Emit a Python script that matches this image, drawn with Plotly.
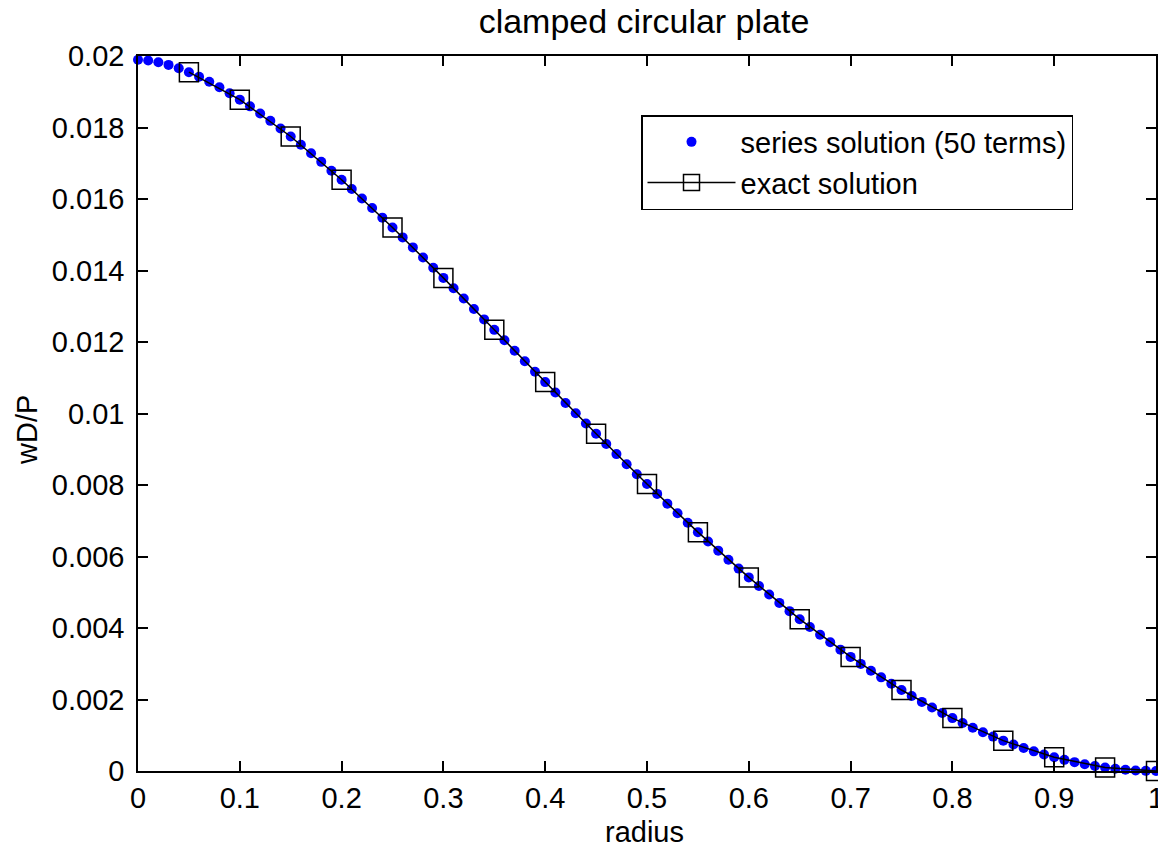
import plotly.graph_objects as go

# ---- data ----
series_r = [round(i * 0.01, 2) for i in range(101)]
series_w = [
    0.019894, 0.019874, 0.019824, 0.019751, 0.019658, 0.019547, 0.019420, 0.019278, 0.019124, 0.018957,
    0.018779, 0.018591, 0.018393, 0.018186, 0.017971, 0.017748, 0.017518, 0.017282, 0.017039, 0.016791,
    0.016537, 0.016279, 0.016016, 0.015748, 0.015478, 0.015204, 0.014926, 0.014646, 0.014364, 0.014079,
    0.013793, 0.013504, 0.013215, 0.012924, 0.012632, 0.012340, 0.012048, 0.011755, 0.011462, 0.011170,
    0.010878, 0.010587, 0.010296, 0.010007, 0.009719, 0.009432, 0.009147, 0.008864, 0.008582, 0.008303,
    0.008026, 0.007751, 0.007479, 0.007210, 0.006944, 0.006681, 0.006421, 0.006164, 0.005911, 0.005661,
    0.005415, 0.005173, 0.004935, 0.004702, 0.004472, 0.004247, 0.004027, 0.003811, 0.003600, 0.003394,
    0.003192, 0.002996, 0.002805, 0.002620, 0.002440, 0.002265, 0.002096, 0.001933, 0.001776, 0.001625,
    0.001480, 0.001341, 0.001208, 0.001082, 0.000962, 0.000849, 0.000742, 0.000642, 0.000549, 0.000463,
    0.000384, 0.000312, 0.000248, 0.000190, 0.000140, 0.000098, 0.000063, 0.000035, 0.000016, 0.000004,
    0.000000,
]

exact_r = [0.05, 0.10, 0.15, 0.20, 0.25, 0.30, 0.35, 0.40, 0.45, 0.50,
           0.55, 0.60, 0.65, 0.70, 0.75, 0.80, 0.85, 0.90, 0.95, 1.00]
exact_w = [0.019547, 0.018779, 0.017748, 0.016537, 0.015204, 0.013793, 0.012340, 0.010878, 0.009432, 0.008026,
           0.006681, 0.005415, 0.004247, 0.003192, 0.002265, 0.001480, 0.000849, 0.000384, 0.000098, 0.000000]

x_ticks = [0, 0.1, 0.2, 0.3, 0.4, 0.5, 0.6, 0.7, 0.8, 0.9, 1.0]
x_tick_labels = ["0", "0.1", "0.2", "0.3", "0.4", "0.5", "0.6", "0.7", "0.8", "0.9", "1"]
y_ticks = [0, 0.002, 0.004, 0.006, 0.008, 0.010, 0.012, 0.014, 0.016, 0.018, 0.020]
y_tick_labels = ["0", "0.002", "0.004", "0.006", "0.008", "0.01", "0.012", "0.014", "0.016", "0.018", "0.02"]

FONT = "Liberation Sans, Arial, sans-serif"
W, H = 1158, 847
ML, MR, MT, MB = 138, 2, 56, 76
FS = 29

fig = go.Figure()
fig.add_trace(go.Scatter(
    x=series_r, y=series_w, mode="markers",
    name="series solution (50 terms)",
    marker=dict(symbol="circle", size=10, color="#0000ff", line=dict(width=0)),
    cliponaxis=False,
))
fig.add_trace(go.Scatter(
    x=exact_r, y=exact_w, mode="lines+markers",
    name="exact solution",
    line=dict(color="black", width=1.5),
    marker=dict(symbol="square-open", size=19, color="black", line=dict(width=1.5, color="black")),
    cliponaxis=False,
))

axis_common = dict(
    showline=True, linecolor="black", linewidth=1.5, mirror="ticks",
    ticks="inside", ticklen=10, tickwidth=1.5, tickcolor="black",
    showgrid=False, zeroline=False, automargin=False,
    tickfont=dict(family=FONT, size=FS, color="black"),
    ticklabeloverflow="allow",
)

plot_h = H - MT - MB
plot_w = W - ML - MR

fig.update_layout(
    width=W, height=H,
    margin=dict(l=ML, r=MR, t=MT, b=MB, pad=0, autoexpand=False),
    paper_bgcolor="white", plot_bgcolor="white",
    font=dict(family=FONT, size=FS, color="black"),
    title=dict(text="clamped circular plate", x=(644 - ML) / plot_w, xref="paper", xanchor="center",
               y=1 - 21 / H, yref="container", yanchor="middle",
               font=dict(family=FONT, size=34, color="black")),
    xaxis=dict(range=[0, 1], tickvals=x_ticks, ticktext=x_tick_labels, **axis_common),
    yaxis=dict(range=[0, 0.02], tickvals=y_ticks, ticktext=y_tick_labels,
               ticklabelstandoff=6, **axis_common),
    showlegend=True,
    legend=dict(
        x=(641 - ML) / plot_w, y=1 - (115 - MT) / plot_h, xanchor="left", yanchor="top",
        bgcolor="white", bordercolor="black", borderwidth=1.5,
        font=dict(family=FONT, size=FS, color="black"),
        itemwidth=88, tracegroupgap=0,
    ),
    annotations=[
        dict(text="radius", xref="paper", yref="paper", x=(644 - ML) / plot_w,
             y=-(832 - (H - MB)) / plot_h, xanchor="center", yanchor="middle",
             showarrow=False, font=dict(family=FONT, size=FS, color="black")),
        dict(text="wD/P", xref="paper", yref="paper", x=(27 - ML) / plot_w,
             y=1 - (430 - MT) / plot_h, xanchor="center", yanchor="middle", textangle=-90,
             showarrow=False, font=dict(family=FONT, size=FS, color="black")),
    ],
)

fig.write_html("out.html", config={"displayModeBar": False},
               post_script="document.body.style.margin='0';document.body.style.overflow='hidden';")
